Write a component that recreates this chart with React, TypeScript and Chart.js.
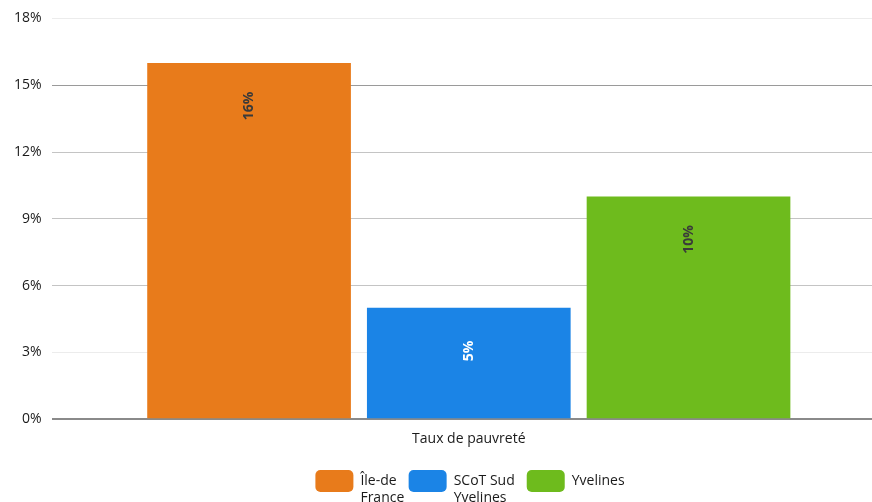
import { useEffect, useRef } from 'react';
import { Chart, registerables } from 'chart.js';
Chart.register(...registerables);

const categories = ['Taux de pauvreté'];
const seriesNames = ['Île-de\nFrance', 'SCoT Sud\nYvelines', 'Yvelines'];
const ileDeFrance = [16];
const scotSudYvelines = [5];
const yvelines = [10];
const seriesColors = ['#E87B1B', '#1B84E6', '#6EBB1D'];
const labelColors = ['#3a3a3a', '#ffffff', '#3a3a3a'];
const yMax = 18;
const yStep = 3;

const FONT = '"Open Sans", sans-serif';

const gridColorFor = (v: number) => {
  if (v === 0) return '#8a8a8a';
  if (v === 18 || v === 3) return '#ececec';
  if (v === 15) return '#9a9a9a';
  return '#c4c4c4';
};

const valueLabels = {
  id: 'valueLabels',
  afterDatasetsDraw(chart: any) {
    const ctx = chart.ctx;
    chart.data.datasets.forEach((ds: any, i: number) => {
      const meta = chart.getDatasetMeta(i);
      meta.data.forEach((bar: any, j: number) => {
        const v = ds.data[j];
        ctx.save();
        ctx.translate(bar.x, bar.y + 43);
        ctx.rotate(-Math.PI / 2);
        ctx.font = `bold 14px ${FONT}`;
        ctx.fillStyle = labelColors[i];
        ctx.textAlign = 'center';
        ctx.textBaseline = 'middle';
        ctx.fillText(`${v}%`, 0, 0);
        ctx.restore();
      });
    });
  },
};

export default function App() {
  const ref = useRef<HTMLCanvasElement | null>(null);
  useEffect(() => {
    document.body.style.margin = '0';
    document.body.style.overflow = 'hidden';
    if (!ref.current) return;
    const values = [ileDeFrance, scotSudYvelines, yvelines];
    const chart = new Chart(ref.current, {
      type: 'bar',
      data: {
        labels: categories,
        datasets: values.map((d, i) => ({
          label: seriesNames[i],
          data: d,
          backgroundColor: seriesColors[i],
          borderWidth: 0,
          categoryPercentage: 0.79,
          barPercentage: 0.927,
        })),
      },
      options: {
        animation: false,
        responsive: false,
        devicePixelRatio: 1,
        layout: { padding: { left: 4, top: 15, right: 4, bottom: 0 } },
        scales: {
          x: {
            grid: { display: false, drawTicks: false },
            border: { display: false },
            ticks: { color: '#1a1a1a', font: { family: FONT, size: 14 }, padding: 11 },
          },
          y: {
            min: 0,
            max: yMax,
            ticks: {
              stepSize: yStep,
              color: '#1a1a1a',
              padding: 10,
              font: { family: FONT, size: 14 },
              callback: (v: any) => `${v}%`,
            },
            grid: {
              drawTicks: false,
              color: (c: any) => gridColorFor(c.tick ? c.tick.value : 0),
              lineWidth: (c: any) => (c.tick && c.tick.value === 0 ? 2 : 1),
            },
            border: { display: false },
          },
          yRight: {
            position: 'right',
            display: true,
            grid: { display: false, drawTicks: false },
            border: { display: false },
            ticks: { display: false },
            afterFit: (s: any) => {
              s.width = 50;
            },
          },
        },
        plugins: {
          legend: {
            position: 'bottom',
            labels: {
              boxWidth: 38,
              boxHeight: 22,
              useBorderRadius: true,
              borderRadius: 5,
              padding: 12,
              color: '#1a1a1a',
              font: { family: FONT, size: 14, lineHeight: 1.2 },
              generateLabels: (chart: any) => {
                const items = Chart.defaults.plugins.legend.labels.generateLabels(chart);
                return items.map((it: any) => {
                  const lines: any = String(it.text).split('\n');
                  const longest = lines.reduce((a: string, b: string) => (b.length > a.length ? b : a), '');
                  lines.toString = () => longest;
                  return { ...it, text: lines, lineWidth: 0 };
                });
              },
            },
          },
          tooltip: { enabled: false },
        },
      },
      plugins: [valueLabels],
    });
    return () => chart.destroy();
  }, []);
  return (
    <div style={{ position: 'absolute', left: 0, top: 0, width: 940, height: 502, overflow: 'hidden' }}>
      <canvas ref={ref} width={940} height={502} style={{ display: 'block', width: 940, height: 502 }} />
    </div>
  );
}
